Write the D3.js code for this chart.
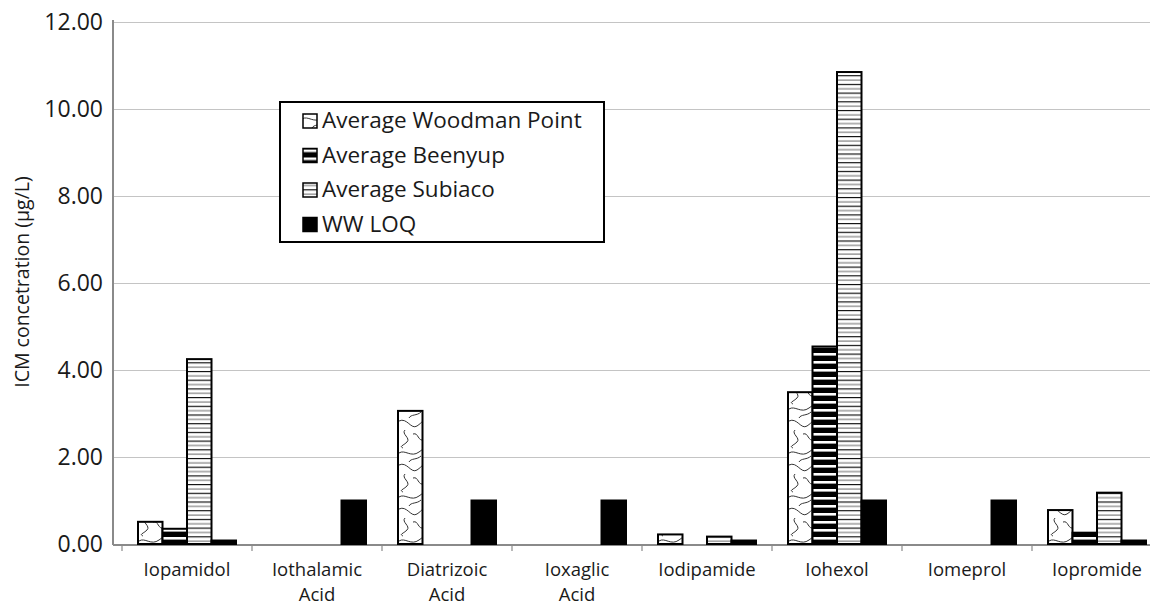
<!DOCTYPE html>
<html>
<head>
<meta charset="utf-8">
<script src="https://cdn.jsdelivr.net/npm/d3@7"></script>
<style>
  body { margin: 0; background: #fff; }
  text { font-family: 'Open Sans', sans-serif; fill: #1a1a1a; }
</style>
</head>
<body>
<svg width="1156" height="610"></svg>
<script>
(function (d3) {
  'use strict';

  // data
  const categories = ['Iopamidol', 'Iothalamic Acid', 'Diatrizoic Acid', 'Ioxaglic Acid',
                      'Iodipamide', 'Iohexol', 'Iomeprol', 'Iopromide'];
  const seriesNames = ['Average Woodman Point', 'Average Beenyup', 'Average Subiaco', 'WW LOQ'];
  const woodman = [0.51, 0, 3.06, 0, 0.22, 3.49, 0, 0.78];
  const beenyup = [0.35, 0, 0, 0, 0, 4.54, 0, 0.26];
  const subiaco = [4.25, 0, 0, 0, 0.17, 10.85, 0, 1.18];
  const loq = [0.08, 1.0, 1.0, 1.0, 0.08, 1.0, 1.0, 0.08];
  const yTicks = [0, 2, 4, 6, 8, 10, 12];
  const yAxisLabel = 'ICM concetration (µg/L)';

  const svg = d3.select('svg');
  const width = +svg.attr('width');
  const height = +svg.attr('height');

  const margin = { top: 22, right: 6, bottom: 66, left: 113 };
  const innerWidth = width - margin.left - margin.right;
  const innerHeight = height - margin.top - margin.bottom;

  const seriesValues = [woodman, beenyup, subiaco, loq];
  const data = [];
  categories.forEach((c, i) => {
    seriesNames.forEach((s, j) => {
      data.push({ category: c, series: s, value: seriesValues[j][i] });
    });
  });

  // patterns
  const defs = svg.append('defs');

  const wavy = defs.append('pattern')
    .attr('id', 'pat-wood')
    .attr('patternUnits', 'userSpaceOnUse')
    .attr('width', 26).attr('height', 44);
  wavy.append('rect').attr('width', 26).attr('height', 44).attr('fill', '#fff');
  [
    'M0,3 C8,-1 12,12 18,8 S24,1 26,4',
    'M6,12 C2,16 12,20 8,24 S0,28 4,30',
    'M14,16 C20,14 18,24 26,22',
    'M0,35 C6,31 12,40 20,34 S24,33 26,36',
    'M10,44 C12,40 18,42 22,38'
  ].forEach(p => wavy.append('path')
    .attr('d', p).attr('fill', 'none')
    .attr('stroke', '#333').attr('stroke-width', 1));

  const been = defs.append('pattern')
    .attr('id', 'pat-been')
    .attr('patternUnits', 'userSpaceOnUse')
    .attr('width', 8).attr('height', 8);
  been.append('rect').attr('width', 8).attr('height', 8).attr('fill', '#000');
  been.append('rect').attr('y', 3).attr('width', 8).attr('height', 2.6).attr('fill', '#fff');

  const subi = defs.append('pattern')
    .attr('id', 'pat-subi')
    .attr('patternUnits', 'userSpaceOnUse')
    .attr('width', 8).attr('height', 8.7);
  subi.append('rect').attr('width', 8).attr('height', 8.7).attr('fill', '#fff');
  subi.append('rect').attr('y', 1).attr('width', 8).attr('height', 1.1).attr('fill', '#000');
  subi.append('rect').attr('y', 5.35).attr('width', 8).attr('height', 1.1).attr('fill', '#777');

  const fills = {
    'Average Woodman Point': 'url(#pat-wood)',
    'Average Beenyup': 'url(#pat-been)',
    'Average Subiaco': 'url(#pat-subi)',
    'WW LOQ': '#000'
  };

  // scales
  const xScale = d3.scaleBand()
    .domain(categories)
    .range([9, 9 + 130 * categories.length])
    .padding(0);

  const xInner = d3.scaleBand()
    .domain(seriesNames)
    .range([16, xScale.bandwidth() - 16])
    .padding(0);

  const yScale = d3.scaleLinear()
    .domain([0, 12])
    .range([innerHeight, 0]);

  const g = svg.append('g')
    .attr('transform', `translate(${margin.left},${margin.top})`);

  // y axis with gridlines
  const yAxis = d3.axisLeft(yScale)
    .tickValues(yTicks)
    .tickFormat(d3.format('.2f'))
    .tickSize(-innerWidth)
    .tickPadding(10);

  const yAxisG = g.append('g').call(yAxis);
  yAxisG.select('.domain').remove();
  yAxisG.selectAll('.tick line')
    .attr('stroke', '#c4c4c4')
    .attr('stroke-width', 1.2);
  yAxisG.selectAll('.tick text')
    .attr('font-size', 23)
    .attr('fill', '#1a1a1a');

  g.append('text')
    .attr('transform', 'rotate(-90)')
    .attr('x', -(282 - margin.top))
    .attr('y', -margin.left + 29)
    .attr('text-anchor', 'middle')
    .attr('font-size', 19.5)
    .text(yAxisLabel);

  // axis lines
  g.append('line')
    .attr('x1', 0).attr('x2', 0)
    .attr('y1', -2).attr('y2', innerHeight + 1)
    .attr('stroke', '#8a8a8a').attr('stroke-width', 2);
  g.append('line')
    .attr('x1', 0).attr('x2', innerWidth)
    .attr('y1', innerHeight + 1).attr('y2', innerHeight + 1)
    .attr('stroke', '#8a8a8a').attr('stroke-width', 2);

  // category separators
  g.selectAll('.sep').data(categories)
    .enter().append('line')
      .attr('class', 'sep')
      .attr('x1', d => xScale(d)).attr('x2', d => xScale(d))
      .attr('y1', innerHeight + 1).attr('y2', innerHeight + 7)
      .attr('stroke', '#8a8a8a').attr('stroke-width', 1.2);

  // category labels, one text per line
  const lines = [];
  categories.forEach(c => {
    c.split(' ').forEach((w, i) => lines.push({ category: c, word: w, row: i }));
  });
  g.selectAll('.cat').data(lines)
    .enter().append('text')
      .attr('class', 'cat')
      .attr('x', d => xScale(d.category) + xScale.bandwidth() / 2)
      .attr('y', d => innerHeight + 32 + d.row * 25)
      .attr('text-anchor', 'middle')
      .attr('font-size', 18.5)
      .text(d => d.word);

  // bars
  g.selectAll('.bar').data(data.filter(d => d.value > 0))
    .enter().append('rect')
      .attr('class', 'bar')
      .attr('x', d => xScale(d.category) + xInner(d.series))
      .attr('y', d => yScale(d.value))
      .attr('width', xInner.bandwidth())
      .attr('height', d => yScale(0) - yScale(d.value))
      .attr('fill', d => fills[d.series])
      .attr('stroke', '#000')
      .attr('stroke-width', 2);

  // legend
  const legend = svg.append('g')
    .attr('transform', 'translate(280,102)');
  legend.append('rect')
    .attr('width', 324).attr('height', 140)
    .attr('fill', '#fff')
    .attr('stroke', '#000').attr('stroke-width', 2);

  const items = legend.selectAll('.item').data(seriesNames)
    .enter().append('g')
      .attr('class', 'item')
      .attr('transform', (d, i) => `translate(22,${26 + i * 34.5})`);
  items.append('rect')
    .attr('x', 1).attr('y', -14)
    .attr('width', 14).attr('height', 14)
    .attr('fill', d => fills[d])
    .attr('stroke', '#000').attr('stroke-width', 1.5);
  items.append('text')
    .attr('x', 20)
    .attr('y', 0)
    .attr('font-size', 22.5)
    .text(d => d);

}(d3));
</script>
</body>
</html>
